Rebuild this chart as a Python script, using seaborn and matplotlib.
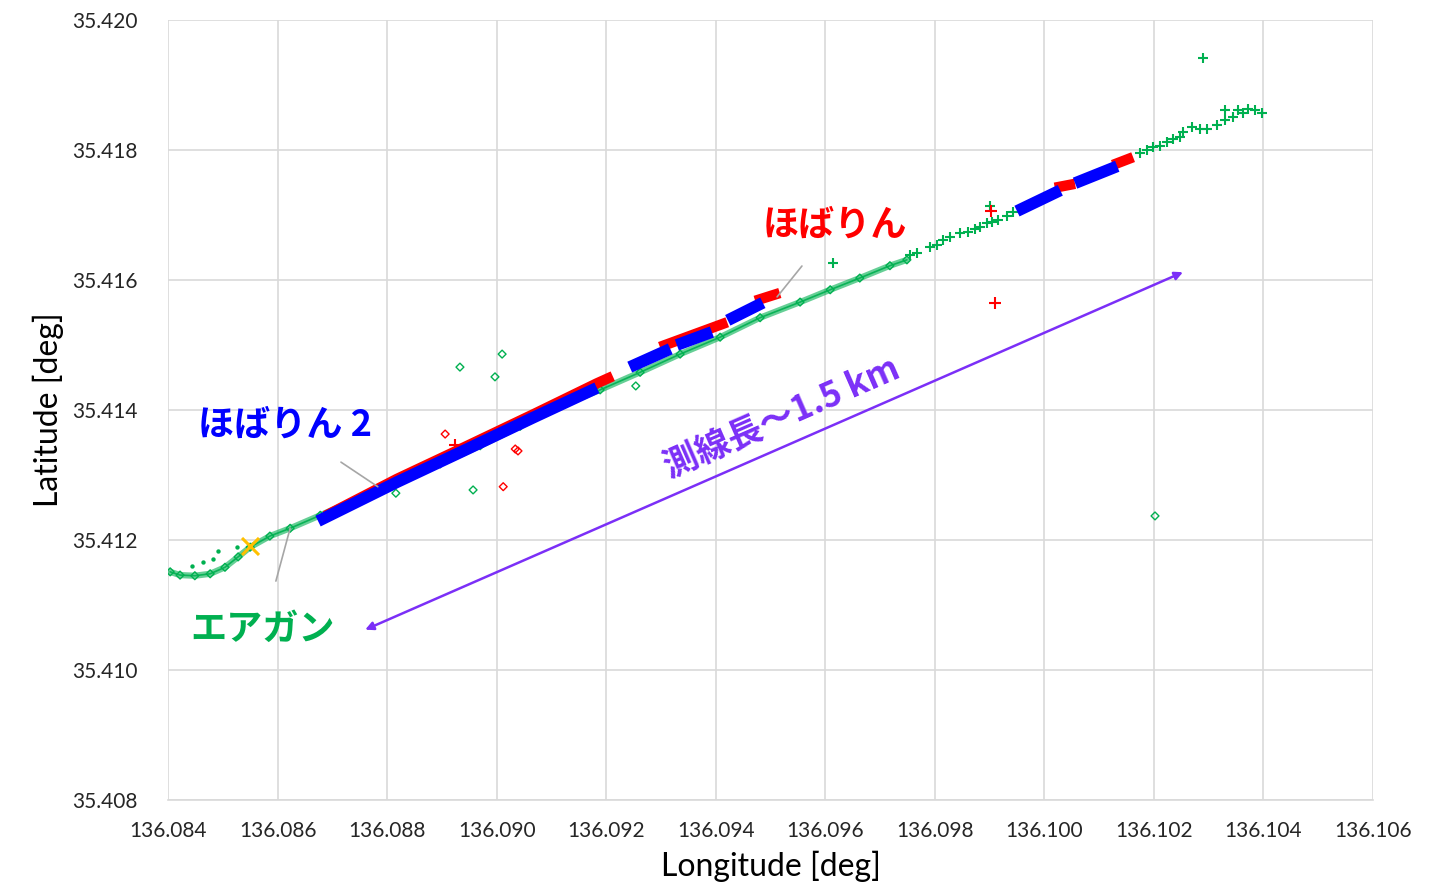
import matplotlib
matplotlib.use("Agg")
import matplotlib.pyplot as plt
import pandas as pd
import seaborn as sns

GREEN = "#00B050"
RED = "#FF0000"
BLUE = "#0000FF"
PURPLE = "#7B2FF7"
GRID = "#D9D9D9"

# airgun track (diamonds)
airgun_lon = [136.08404, 136.08422, 136.08449, 136.08477, 136.08504, 136.08528, 136.08550,
              136.08586, 136.08623, 136.08678, 136.08751, 136.08824, 136.08897, 136.08970,
              136.09043, 136.09116, 136.09189, 136.09262, 136.09335, 136.09408, 136.09481,
              136.09554, 136.09609, 136.09663, 136.09718, 136.09749]
airgun_lat = [35.41151, 35.41146, 35.41145, 35.41148, 35.41158, 35.41174, 35.41189,
              35.41206, 35.41218, 35.41238, 35.41265, 35.41291, 35.41317, 35.41345,
              35.41375, 35.41406, 35.41431, 35.41458, 35.41486, 35.41512, 35.41542,
              35.41566, 35.41585, 35.41603, 35.41622, 35.41631]
# airgun track (plus markers)
airgun2_lon = [136.09755, 136.09767, 136.09791, 136.09804, 136.09815, 136.09828, 136.09846,
               136.09861, 136.09873, 136.09883, 136.09895, 136.09904, 136.09915, 136.09932,
               136.09943, 136.10175, 136.10187, 136.10198, 136.10211, 136.10224, 136.10235,
               136.10248, 136.10253, 136.10270, 136.10284, 136.10297, 136.10315, 136.10330,
               136.10330, 136.10344, 136.10353, 136.10363, 136.10372, 136.10385, 136.10397]
airgun2_lat = [35.41638, 35.41642, 35.41651, 35.41654, 35.41662, 35.41666, 35.41672,
               35.41674, 35.41678, 35.41682, 35.41688, 35.41689, 35.41692, 35.41698,
               35.41705, 35.41795, 35.41800, 35.41805, 35.41806, 35.41812, 35.41817,
               35.41820, 35.41828, 35.41835, 35.41832, 35.41832, 35.41838, 35.41846,
               35.41862, 35.41851, 35.41862, 35.41857, 35.41863, 35.41862, 35.41857]
# stray airgun fixes
airgun_out_lon = [136.08933, 136.09010, 136.08997, 136.08957, 136.08816, 136.09254, 136.10202]
airgun_out_lat = [35.41466, 35.41486, 35.41451, 35.41277, 35.41272, 35.41437, 35.41237]
airgun_dot_lon = [136.08444, 136.08464, 136.08482, 136.08491, 136.08526]
airgun_dot_lat = [35.41160, 35.41166, 35.41171, 35.41183, 35.41189]
airgun_plus_out_lon = [136.10290, 136.09614, 136.09901]
airgun_plus_out_lat = [35.41942, 35.41626, 35.41714]

# ほばりん (red) segments
hob_seg = [1, 1, 1, 1, 1, 1, 2, 2, 3, 3, 4, 4, 5, 5]
hob_lon = [136.08687, 136.08818, 136.08939, 136.09066, 136.09183, 136.09212,
           136.09298, 136.09421, 136.09472, 136.09517, 136.10019, 136.10056,
           136.10125, 136.10162]
hob_lat = [35.41237, 35.41294, 35.41342, 35.41393, 35.41441, 35.41452,
           35.41497, 35.41535, 35.41568, 35.41580, 35.41742, 35.41748,
           35.41777, 35.41789]
hob_out_lon = [136.08906, 136.09039, 136.09034, 136.09012]
hob_out_lat = [35.41363, 35.41337, 35.41340, 35.41282]
hob_plus_lon = [136.09910, 136.09903, 136.08924]
hob_plus_lat = [35.41565, 35.41706, 35.41346]

# ほばりん 2 (blue) segments
hob2_seg = [1, 1, 1, 1, 1, 2, 2, 3, 3, 4, 4, 5, 5, 6, 6]
hob2_lon = [136.08674, 136.08818, 136.08939, 136.09066, 136.09183,
            136.09243, 136.09317, 136.09329, 136.09393, 136.09422,
            136.09486, 136.09950, 136.10029, 136.10056, 136.10133]
hob2_lat = [35.41229, 35.41289, 35.41337, 35.41388, 35.41434,
            35.41466, 35.41494, 35.41500, 35.41520, 35.41538,
            35.41565, 35.41706, 35.41738, 35.41749, 35.41775]

shot_lon = [136.08550]
shot_lat = [35.41191]

x_ticks = [136.084, 136.086, 136.088, 136.090, 136.092, 136.094, 136.096,
           136.098, 136.100, 136.102, 136.104, 136.106]
y_ticks = [35.408, 35.410, 35.412, 35.414, 35.416, 35.418, 35.420]

sns.set_theme(style="white")
plt.rcParams['font.family'] = ['Lato', 'DejaVu Sans']
JP = ['Noto Sans CJK JP', 'DejaVu Sans']

fig = plt.figure(figsize=(14.52, 8.82), dpi=100)
ax = fig.add_axes([0.1157, 0.0930, 0.8299, 0.8843])

ag = pd.DataFrame({'lon': airgun_lon, 'lat': airgun_lat})
ag2 = pd.DataFrame({'lon': airgun2_lon, 'lat': airgun2_lat})
hob = pd.DataFrame({'lon': hob_lon, 'lat': hob_lat, 'seg': hob_seg})
hob2 = pd.DataFrame({'lon': hob2_lon, 'lat': hob2_lat, 'seg': hob2_seg})

# airgun
sns.lineplot(data=ag, x='lon', y='lat', sort=False, estimator=None, color=GREEN,
             lw=4.5, alpha=0.6, ax=ax)
sns.lineplot(data=ag, x='lon', y='lat', sort=False, estimator=None, color=GREEN,
             lw=1.2, alpha=0.9, ax=ax)
sns.scatterplot(data=ag, x='lon', y='lat', marker='D', s=16, fc='none', ec=GREEN,
                linewidth=1, ax=ax)
sns.scatterplot(x=airgun_out_lon, y=airgun_out_lat, marker='D', s=16, fc='none',
                ec=GREEN, linewidth=1, ax=ax)
sns.scatterplot(x=airgun_dot_lon, y=airgun_dot_lat, marker='o', s=10, color=GREEN,
                linewidth=0, ax=ax)
sns.scatterplot(data=ag2, x='lon', y='lat', marker='+', s=60, color=GREEN,
                linewidth=1.5, ax=ax)
sns.scatterplot(x=airgun_plus_out_lon, y=airgun_plus_out_lat, marker='+', s=60,
                color=GREEN, linewidth=1.5, ax=ax)

# ほばりん
sns.lineplot(data=hob, x='lon', y='lat', units='seg', estimator=None, sort=False,
             color=RED, lw=7.5, solid_capstyle='butt', ax=ax)
sns.scatterplot(x=hob_out_lon, y=hob_out_lat, marker='D', s=16, fc='none', ec=RED,
                linewidth=1, ax=ax)
sns.scatterplot(x=hob_plus_lon, y=hob_plus_lat, marker='+', s=80, color=RED,
                linewidth=1.5, ax=ax)

# ほばりん 2
sns.lineplot(data=hob2, x='lon', y='lat', units='seg', estimator=None, sort=False,
             color=BLUE, lw=8.5, solid_capstyle='butt', ax=ax)

# shot point
sns.scatterplot(x=shot_lon, y=shot_lat, marker='x', s=150, color='#FFC000',
                linewidth=2.2, ax=ax, zorder=5)

# annotations
ax.annotate('ほばりん', xy=(136.09512, 35.41574), xytext=(136.09618, 35.41685),
            color=RED, fontsize=26, fontweight='bold', family=JP, ha='center', va='center',
            arrowprops=dict(arrowstyle='-', color='#A6A6A6', lw=1.2, shrinkA=18, shrinkB=0))
ax.annotate('ほばりん 2', xy=(136.08783, 35.41282), xytext=(136.08614, 35.41377),
            color=BLUE, fontsize=26, fontweight='bold', family=JP, ha='center', va='center',
            arrowprops=dict(arrowstyle='-', color='#A6A6A6', lw=1.2, shrinkA=20, shrinkB=0))
ax.annotate('エアガン', xy=(136.08623, 35.41218), xytext=(136.08573, 35.41062),
            color=GREEN, fontsize=26, fontweight='bold', family=JP, ha='center', va='center',
            arrowprops=dict(arrowstyle='-', color='#A6A6A6', lw=1.2, shrinkA=20, shrinkB=0))
ax.annotate('', xy=(136.10253, 35.41612), xytext=(136.08760, 35.41062),
            arrowprops=dict(arrowstyle='<|-|>', color=PURPLE, lw=1.8, mutation_scale=12,
                            shrinkA=0, shrinkB=0))
ax.text(136.09521, 35.41388, '測線長～1.5 km', color=PURPLE, fontsize=25,
        fontweight='bold', family=JP, rotation=23.6, rotation_mode='anchor',
        ha='center', va='center')

ax.set_xlim(136.084, 136.106)
ax.set_ylim(35.408, 35.420)
ax.set_xticks(x_ticks)
ax.set_yticks(y_ticks)
ax.set_xticklabels([f'{v:.3f}' for v in x_ticks])
ax.set_yticklabels([f'{v:.3f}' for v in y_ticks])
ax.grid(True, color=GRID, lw=1.2)
ax.set_axisbelow(True)
for s in ['top', 'right', 'left']:
    ax.spines[s].set_visible(False)
ax.spines['bottom'].set_color(GRID)
ax.spines['bottom'].set_linewidth(1.2)
ax.tick_params(axis='y', length=0, labelsize=15, pad=22)
ax.tick_params(axis='x', length=0, labelsize=15, pad=15)
for lbl in ax.get_xticklabels() + ax.get_yticklabels():
    lbl.set_color('#262626')
ax.set_xlabel('Longitude [deg]', fontsize=23, color='black', labelpad=7)
ax.set_ylabel('Latitude [deg]', fontsize=23, color='black', labelpad=6)

fig.savefig('out.png', dpi=100, facecolor='white')
